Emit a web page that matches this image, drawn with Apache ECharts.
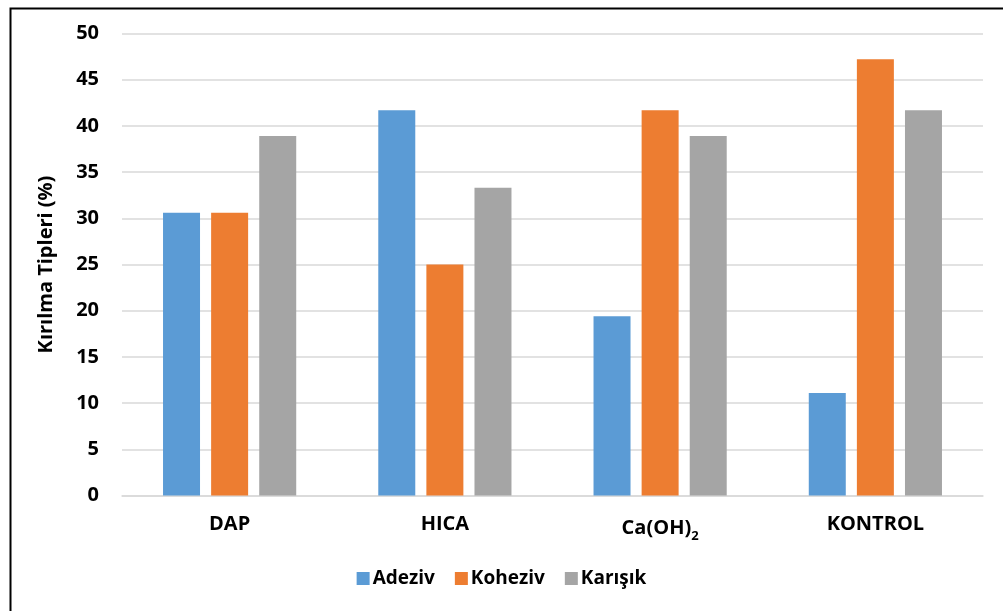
<!DOCTYPE html>
<html>
<head>
<meta charset="utf-8">
<script src="https://cdn.jsdelivr.net/npm/echarts@6/dist/echarts.min.js"></script>
<style>html,body{margin:0;padding:0;background:#fff}#c{width:1003px;height:611px}</style>
</head>
<body>
<div id="c"></div>
<script>
const categories = ['DAP', 'HICA', 'Ca(OH)2', 'KONTROL'];
const adeziv = [30.6, 41.7, 19.4, 11.1];
const koheziv = [30.6, 25.0, 41.7, 47.2];
const karisik = [38.9, 33.3, 38.9, 41.7];
const seriesNames = ['Adeziv', 'Koheziv', 'Karışık'];
const yTicks = { min: 0, max: 50, interval: 5 };
const yTitle = 'Kırılma Tipleri (%)';

const FONT = '"Open Sans"';
const chart = echarts.init(document.getElementById('c'), null, { renderer: 'canvas' });
const colors = ['#5b9bd5', '#ed7d31', '#a5a5a5'];
const data = [adeziv, koheziv, karisik];

chart.setOption({
  animation: false,
  textStyle: { fontFamily: FONT },
  graphic: [{
    type: 'rect', left: 8, top: 6, silent: true,
    shape: { width: 1010, height: 620 },
    style: { fill: 'none', stroke: '#000', lineWidth: 2 }
  }],
  grid: { left: 122, right: 20, top: 33.5, bottom: 115.5, containLabel: false },
  legend: {
    bottom: 18, left: 'center',
    itemWidth: 13, itemHeight: 13, itemGap: 20,
    icon: 'rect',
    textStyle: { fontFamily: FONT, fontWeight: 'bold', fontSize: 19, color: '#000', padding: [0, 0, 0, -2] },
    data: seriesNames
  },
  xAxis: {
    type: 'category', data: categories,
    axisLine: { lineStyle: { color: '#d9d9d9', width: 1.5 } },
    axisTick: { show: false },
    axisLabel: {
      margin: 19, color: '#000', fontFamily: FONT, fontWeight: 'bold', fontSize: 20,
      formatter: function (v) {
        const m = v.match(/^(.*?)(\d)$/);
        if (m && v.indexOf('(') >= 0) return '{n|' + m[1] + '}{s|' + m[2] + '}';
        return '{n|' + v + '}';
      },
      rich: {
        n: { fontFamily: FONT, fontWeight: 'bold', fontSize: 20, color: '#000' },
        s: { fontFamily: FONT, fontWeight: 'bold', fontSize: 13, color: '#000', verticalAlign: 'bottom', padding: [15, 0, 0, 0] }
      }
    }
  },
  yAxis: {
    type: 'value', min: yTicks.min, max: yTicks.max, interval: yTicks.interval,
    name: yTitle, nameLocation: 'middle', nameGap: 66, nameRotate: 90,
    nameTextStyle: { fontFamily: FONT, fontWeight: 'bold', fontSize: 20, color: '#000' },
    axisLine: { show: false }, axisTick: { show: false },
    axisLabel: { margin: 23, color: '#000', fontFamily: FONT, fontWeight: 'bold', fontSize: 20 },
    splitLine: { lineStyle: { color: '#d9d9d9', width: 1.5 } }
  },
  series: seriesNames.map((n, i) => ({
    name: n, type: 'bar', data: data[i],
    barWidth: 37, barGap: '30%',
    itemStyle: { color: colors[i] }
  }))
});
</script>
</body>
</html>
